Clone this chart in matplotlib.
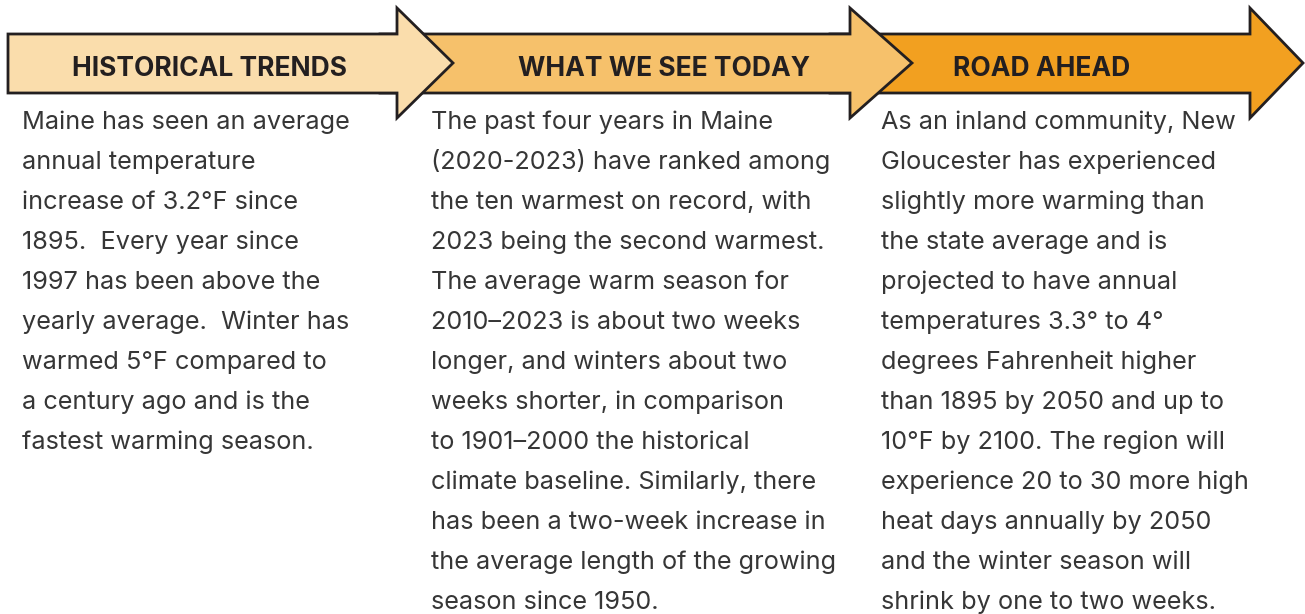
import matplotlib
matplotlib.use("Agg")
import matplotlib.pyplot as plt
from matplotlib.patches import Polygon

headings = ["HISTORICAL TRENDS", "WHAT WE SEE TODAY", "ROAD AHEAD"]
col1 = ["Maine has seen an average", "annual temperature", "increase of 3.2°F since",
        "1895.  Every year since", "1997 has been above the", "yearly average.  Winter has",
        "warmed 5°F compared to", "a century ago and is the", "fastest warming season."]
col2 = ["The past four years in Maine", "(2020-2023) have ranked among", "the ten warmest on record, with",
        "2023 being the second warmest.", "The average warm season for", "2010–2023 is about two weeks",
        "longer, and winters about two", "weeks shorter, in comparison", "to 1901–2000 the historical",
        "climate baseline. Similarly, there", "has been a two-week increase in",
        "the average length of the growing", "season since 1950."]
col3 = ["As an inland community, New", "Gloucester has experienced", "slightly more warming than",
        "the state average and is", "projected to have annual", "temperatures 3.3° to 4°",
        "degrees Fahrenheit higher", "than 1895 by 2050 and up to", "10°F by 2100. The region will",
        "experience 20 to 30 more high", "heat days annually by 2050",
        "and the winter season will", "shrink by one to two weeks."]
columns = [col1, col2, col3]
colors = ["#FADDAC", "#F6C16B", "#F2A020"]

W, H = 1305, 614
fig = plt.figure(figsize=(W / 100, H / 100), dpi=100)
ax = fig.add_axes([0, 0, 1, 1])
ax.set_xlim(0, W)
ax.set_ylim(H, 0)
ax.axis("off")

# arrow geometry: (body_left, head_base, tip)
arrows = [(8, 397, 453), (380, 850, 912), (830, 1250, 1303)]
body_top, body_bot, head_top, head_bot, mid = 34, 93, 8, 118, 63
for i, ((x0, xb, xt), c) in enumerate(zip(arrows, colors)):
    pts = [(x0, body_top), (xb, body_top), (xb, head_top), (xt, mid),
           (xb, head_bot), (xb, body_bot), (x0, body_bot)]
    ax.add_patch(Polygon(pts, closed=True, facecolor=c, edgecolor="#231F20",
                         lw=2, joinstyle="miter", zorder=10 - i))

head_x = [210, 664, 1042]
for hx, h in zip(head_x, headings):
    ax.text(hx, 69.5, h, ha="center", va="center", fontsize=19, fontweight="bold",
            family="Inter", color="#231F20", zorder=20)

col_x = [22, 431, 881]
for cx, lines in zip(col_x, columns):
    for j, line in enumerate(lines):
        ax.text(cx, 129 + 40 * j, line, ha="left", va="baseline", fontsize=18.2,
                family="Inter", color="#363636", zorder=20)

fig.savefig("out.png", dpi=100)
